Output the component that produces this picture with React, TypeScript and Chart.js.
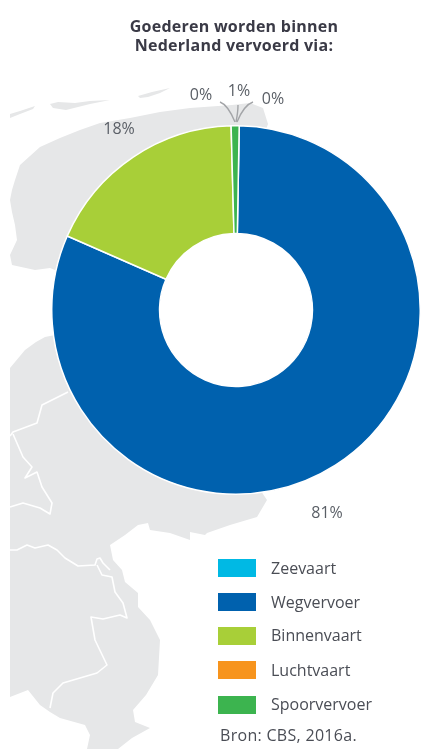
import React, { useEffect, useRef } from "react";
import { Chart, registerables } from "chart.js";

Chart.register(...registerables);

const categories = ["Zeevaart", "Wegvervoer", "Binnenvaart", "Luchtvaart", "Spoorvervoer"];
const values = [0, 81.3, 18, 0, 0.7];
const valueLabels = ["0%", "81%", "18%", "0%", "1%"];
const colors = ["#00b9e4", "#0061ae", "#a8cf38", "#f7941d", "#3cb44f"];
const titleLines = ["Goederen worden binnen", "Nederland vervoerd via:"];
const source = "Bron: CBS, 2016a.";

// Label anchor points, relative to the doughnut's centre
const labelOffsets = [[37, -211], [91, 203], [-117, -181], [-35, -215], [3, -219]];
const legendTops = [559, 593, 627, 661, 696];
const legendTextY = [568, 602, 635, 670, 704];

const LAND = "#e6e7e8";
type Pts = number[][];
const landShapes: Pts[] = [
  [[10,114],[20,111],[35,106],[33,109],[20,114],[10,118]],
  [[50,104],[58,102],[75,103],[90,101],[110,100],[90,104],[66,110],[53,108]],
  [[138,96],[152,92],[170,88],[160,93],[148,97],[140,98]],
  [[10,200],[12,190],[15,180],[20,165],[30,156],[40,147],[60,138],[80,130],[100,123],[130,118],[160,112],[190,108],[232,105],[250,103],[263,108],[268,124],[240,200],[80,280],[50,268],[35,270],[12,265],[10,255],[17,240],[15,225],[12,212]],
  [[10,368],[25,350],[36,342],[45,337],[55,335],[200,400],[267,500],[257,517],[230,525],[207,533],[205,535],[190,532],[190,540],[170,533],[150,530],[148,523],[138,525],[125,535],[110,545],[113,560],[122,570],[125,582],[138,593],[138,607],[150,620],[160,640],[158,675],[146,695],[133,710],[135,722],[150,728],[132,738],[118,749],[87,749],[90,735],[85,725],[60,718],[50,712],[40,705],[28,690],[10,697]],
];
const borderLines: Pts[] = [
  [[68,392],[42,405],[37,423],[13,432],[10,436]],
  [[13,434],[23,457],[32,467],[25,478],[37,472],[42,487],[52,503],[50,514],[40,508],[23,503],[10,507]],
  [[10,550],[17,550],[27,545],[35,548],[48,545],[57,550],[65,558],[78,566],[95,565],[97,559],[100,558],[103,563],[110,570]],
  [[97,565],[102,575],[112,577],[115,592],[123,603],[127,618],[120,615],[103,619],[91,617],[95,640],[107,665],[97,673],[63,683],[53,693],[50,708]],
];
const leaders: Pts[] = [
  [[220,102],[228,105],[235,122]],
  [[238,105],[238,112],[236,122]],
  [[253,102],[244,105],[237,122]],
];

const mapPlugin = {
  id: "mapBackdrop",
  beforeDraw(chart: any) {
    const c = chart.ctx;
    c.save();
    c.fillStyle = LAND;
    for (const s of landShapes) {
      c.beginPath();
      s.forEach(([x, y], i) => (i ? c.lineTo(x, y) : c.moveTo(x, y)));
      c.closePath();
      c.fill();
    }
    c.strokeStyle = "#ffffff";
    c.lineWidth = 1.6;
    c.lineJoin = "round";
    for (const l of borderLines) {
      c.beginPath();
      l.forEach(([x, y], i) => (i ? c.lineTo(x, y) : c.moveTo(x, y)));
      c.stroke();
    }
    c.restore();
  },
};

const labelPlugin = {
  id: "sliceLabels",
  afterDraw(chart: any) {
    const c = chart.ctx;
    const arc = chart.getDatasetMeta(0).data[0];
    c.save();
    c.strokeStyle = "#a3a5a8";
    c.lineWidth = 1.4;
    for (const [a, b, d] of leaders) {
      c.beginPath();
      c.moveTo(a[0], a[1]);
      c.quadraticCurveTo(b[0], b[1], d[0], d[1]);
      c.stroke();
    }
    c.fillStyle = "#5a5f66";
    c.font = "16px 'Open Sans'";
    c.textAlign = "center";
    c.textBaseline = "middle";
    valueLabels.forEach((t, i) => {
      c.fillText(t, arc.x + labelOffsets[i][0], arc.y + labelOffsets[i][1]);
    });
    c.restore();
  },
};

export default function App() {
  const ref = useRef<HTMLCanvasElement>(null);
  useEffect(() => {
    const chart = new Chart(ref.current!, {
      type: "doughnut",
      data: {
        labels: categories,
        datasets: [{ data: values, backgroundColor: colors, borderColor: "#ffffff", borderWidth: 1.5 }],
      },
      options: {
        responsive: false,
        animation: false,
        rotation: 1,
        cutout: "41.5%",
        layout: { padding: { left: 51, top: 123, right: -4, bottom: 252 } },
        plugins: { legend: { display: false }, title: { display: false }, tooltip: { enabled: false } },
      },
      plugins: [mapPlugin, labelPlugin],
    });
    return () => chart.destroy();
  }, []);

  const text: React.CSSProperties = { position: "absolute", whiteSpace: "nowrap", lineHeight: "16px", fontFamily: "'Open Sans', sans-serif" };
  return (
    <div style={{ position: "absolute", left: 0, top: 0, width: 421, height: 749, background: "#fff", overflow: "hidden", filter: "blur(0.6px)" }}>
      <canvas ref={ref} width={421} height={749} style={{ position: "absolute", left: 0, top: 0 }} />
      {titleLines.map((t, i) => (
        <div key={t} style={{ ...text, left: 34, width: 400, textAlign: "center", top: 18 + i * 19, fontSize: 16, letterSpacing: 0.25, fontWeight: 700, color: "#3a3a46" }}>{t}</div>
      ))}
      {categories.map((t, i) => (
        <React.Fragment key={t}>
          <div style={{ position: "absolute", left: 218, top: legendTops[i], width: 38, height: 18, background: colors[i] }} />
          <div style={{ ...text, left: 271, top: legendTextY[i] - 8, fontSize: 16, color: "#4a4d55" }}>{t}</div>
        </React.Fragment>
      ))}
      <div style={{ ...text, left: 220, top: 727, fontSize: 16, letterSpacing: 0.3, color: "#4a4d55" }}>{source}</div>
    </div>
  );
}
